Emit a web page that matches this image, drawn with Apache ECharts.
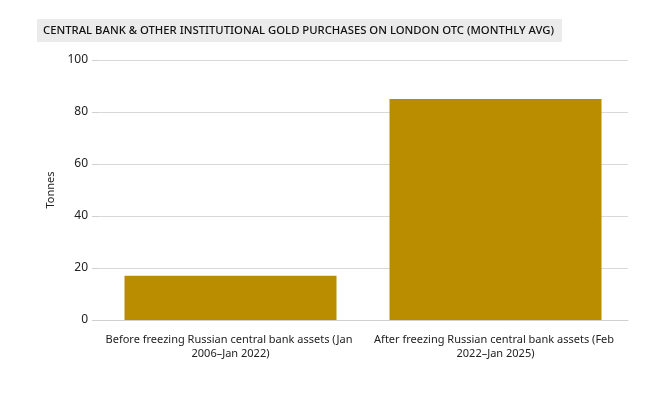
<!DOCTYPE html>
<html><head><meta charset="utf-8">
<script src="https://cdn.jsdelivr.net/npm/echarts@6/dist/echarts.min.js"></script>
<style>html,body{margin:0;padding:0;background:#fff}#c{width:648px;height:397px}</style>
</head><body><div id="c"></div>
<script>
const categories = ["Before freezing Russian central bank assets (Jan 2006–Jan 2022)", "After freezing Russian central bank assets (Feb 2022–Jan 2025)"];
const values = [17, 85];
const yTicks = [0, 20, 40, 60, 80, 100];
const titleText = "CENTRAL BANK & OTHER INSTITUTIONAL GOLD PURCHASES ON LONDON OTC (MONTHLY AVG)";
const yName = "Tonnes";

const chart = echarts.init(document.getElementById('c'), null, {renderer: 'canvas'});
const font = "'Noto Sans', sans-serif";
chart.setOption({
  animation: false,
  textStyle: {fontFamily: font},
  title: {
    text: titleText, left: 37, top: 19,
    backgroundColor: '#ebebeb', padding: [6, 8, 6, 6],
    textStyle: {fontSize: 11.3, fontWeight: 500, color: '#111', fontFamily: font}
  },
  grid: {left: 98, right: 20, top: 60, bottom: 77},
  xAxis: {
    type: 'category', data: categories,
    axisLine: {lineStyle: {color: '#d0d0d0'}},
    axisTick: {show: false},
    axisLabel: {color: '#222', fontSize: 11, width: 255, overflow: 'break', interval: 0, margin: 13, lineHeight: 14}
  },
  yAxis: {
    type: 'value', min: yTicks[0], max: yTicks[yTicks.length - 1], interval: 20,
    name: yName, nameLocation: 'middle', nameGap: 40,
    nameTextStyle: {color: '#222', fontSize: 11},
    axisLine: {show: false},
    axisTick: {show: true, length: 6, lineStyle: {color: '#d0d0d0'}},
    splitLine: {lineStyle: {color: '#d8d8d8'}},
    axisLabel: {color: '#222', fontSize: 12, margin: 10}
  },
  series: [{
    type: 'bar', data: values, barWidth: '80%',
    itemStyle: {color: '#BA8C00'}
  }]
});
</script></body></html>
